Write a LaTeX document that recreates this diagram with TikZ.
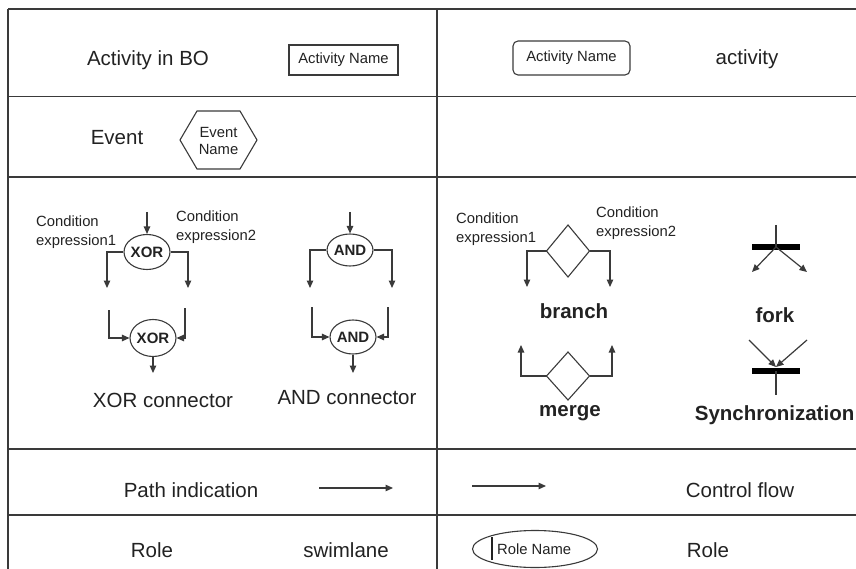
\documentclass[tikz,border=0pt]{standalone}
\usepackage{fontspec}
\setmainfont{Liberation Sans}
\usetikzlibrary{arrows.meta,shapes.geometric}
\definecolor{ink}{HTML}{222222}
\definecolor{rule}{HTML}{3A3A3A}
\newcommand\fszL{\fontsize{20.5}{24}\selectfont}
\newcommand\fszS{\fontsize{14.8}{19}\selectfont}
\tikzset{
  big/.style={inner sep=0pt,text=ink,font=\fszL},
  bigb/.style={inner sep=0pt,text=ink,font=\fszL\bfseries},
  small/.style={inner sep=0pt,text=ink,font=\fszS,align=left},
  gridline/.style={draw=rule,line width=1.3pt},
  shp/.style={draw=rule,line width=1.1pt},
  conn/.style={ellipse,draw=rule,line width=1.1pt,inner sep=0pt,text=ink,font=\fontsize{15}{17}\selectfont\bfseries},
  arr/.style={draw=rule,line width=1.2pt,-{Triangle[length=7.5pt,width=6.5pt]}},
  ln/.style={draw=rule,line width=1.2pt},
  bar/.style={fill=black,inner sep=0pt,minimum width=48pt,minimum height=5.5pt},
}
\begin{document}
\begin{tikzpicture}[x=1pt,y=-1pt]
\useasboundingbox (0,0) rectangle (856,569);
% grid
\draw[gridline] (8,9) -- (856,9);
\draw[gridline] (8,96.5) -- (856,96.5);
\draw[gridline] (8,177) -- (856,177);
\draw[gridline] (8,449) -- (856,449);
\draw[gridline] (8,515) -- (856,515);
\draw[gridline] (8,9) -- (8,569);
\draw[gridline] (437,9) -- (437,569);

% row 1
\node[big] (actbo) at (148,60) {Activity in BO};
\node[shp,rectangle,minimum width=109pt,minimum height=30pt,inner sep=0pt,text=ink,font=\fszS] (actbox) at (343.5,60) {Activity Name};
\node[shp,rectangle,rounded corners=5pt,minimum width=117pt,minimum height=34pt,inner sep=0pt,text=ink,font=\fszS] (actround) at (571.5,58) {Activity Name};
\node[big] (activity) at (747,59) {activity};

% row 2
\node[big] (event) at (117,138) {Event};
\draw[shp] (180,140) -- (197,111) -- (240,111) -- (257,140) -- (240,169) -- (197,169) -- cycle;
\node[small,align=center,font=\fontsize{14.8}{17}\selectfont] (evname) at (218.5,141) {Event\\Name};

% XOR
\node[small,anchor=west] (cx1) at (36,232.5) {Condition\\expression1};
\node[small,anchor=west] (cx2) at (176,227.5) {Condition\\expression2};
\node[conn,minimum width=38pt,minimum height=35pt] (x1) at (147,252) {XOR};
\coordinate (x1in) at (147,212);
\coordinate (x1l) at (107,288);
\coordinate (x1r) at (188,288);
\draw[arr] (x1in) -- (x1.north);
\draw[arr] (x1.west) -| (x1l);
\draw[arr] (x1.east) -| (x1r);
\node[conn,minimum width=41pt,minimum height=37pt] (x2) at (153,338) {XOR};
\coordinate (x2l) at (109,310);
\coordinate (x2r) at (185,308);
\coordinate (x2out) at (153,373);
\draw[arr] (x2l) |- (x2.west);
\draw[arr] (x2r) |- (x2.east);
\draw[arr] (x2.south) -- (x2out);
\node[big] (xorlbl) at (163,400) {XOR connector};

% AND
\node[conn,minimum width=40pt,minimum height=32pt] (a1) at (350,250) {AND};
\coordinate (a1in) at (350,212);
\coordinate (a1l) at (310,288);
\coordinate (a1r) at (392,288);
\draw[arr] (a1in) -- (a1.north);
\draw[arr] (a1.west) -| (a1l);
\draw[arr] (a1.east) -| (a1r);
\node[conn,minimum width=40pt,minimum height=34pt] (a2) at (353,337) {AND};
\coordinate (a2l) at (312,307);
\coordinate (a2r) at (388,307);
\coordinate (a2out) at (353,373);
\draw[arr] (a2l) |- (a2.west);
\draw[arr] (a2r) |- (a2.east);
\draw[arr] (a2.south) -- (a2out);
\node[big] (andlbl) at (347,398) {AND connector};

% branch
\node[small,anchor=west] (bc1) at (456,229) {Condition\\expression1};
\node[small,anchor=west] (bc2) at (596,223.5) {Condition\\expression2};
\coordinate (d1w) at (546.5,251);
\coordinate (d1e) at (589.5,251);
\draw[shp] (568,225) -- (d1e) -- (568,277) -- (d1w) -- cycle;
\coordinate (d1l) at (527,287);
\coordinate (d1r) at (610,287);
\draw[arr] (d1w) -| (d1l);
\draw[arr] (d1e) -| (d1r);
\node[bigb] (branch) at (574,311) {branch};

% merge
\coordinate (d2w) at (546.5,376);
\coordinate (d2e) at (589.5,376);
\draw[shp] (568,352) -- (d2e) -- (568,400) -- (d2w) -- cycle;
\coordinate (d2l) at (521,345);
\coordinate (d2r) at (612,345);
\draw[arr] (d2w) -| (d2l);
\draw[arr] (d2e) -| (d2r);
\node[bigb] (merge) at (570,413) {merge};

% fork
\node[bar] (fbar) at (776,247) {};
\coordinate (ftop) at (776,225);
\coordinate (fl) at (752,272);
\coordinate (fr) at (807,272);
\draw[ln] (ftop) -- (fbar.center);
\draw[arr] (fbar.center) -- (fl);
\draw[arr] (fbar.center) -- (fr);
\node[bigb] (fork) at (775,315) {fork};

% synchronization
\node[bar] (sbar) at (776,371) {};
\coordinate (sl) at (749,340);
\coordinate (sr) at (807,340);
\coordinate (sbot) at (776,395);
\coordinate (sin) at (776,367);
\draw[arr] (sl) -- (sin);
\draw[arr] (sr) -- (sin);
\draw[ln] (sbar.center) -- (sbot);
\node[bigb,anchor=east] (sync) at (854.5,415) {Synchronization};

% row 4
\node[big] (path) at (191,490) {Path indication};
\coordinate (p1a) at (319,488);
\coordinate (p1b) at (393,488);
\draw[arr] (p1a) -- (p1b);
\coordinate (p2a) at (472,486);
\coordinate (p2b) at (546,486);
\draw[arr] (p2a) -- (p2b);
\node[big] (cflow) at (740,490) {Control flow};

% row 5
\node[big] (role1) at (152,550) {Role};
\node[big] (swim) at (346,550) {swimlane};
\node[ellipse,draw=rule,line width=1.1pt,minimum width=125pt,minimum height=37pt,inner sep=0pt] (rolee) at (535,549) {};
\draw[draw=ink,line width=1.3pt] (492,537) -- (492,560);
\node[small,anchor=west] (rolename) at (497,549) {Role Name};
\node[big] (role2) at (708,550) {Role};
\end{tikzpicture}
\end{document}
